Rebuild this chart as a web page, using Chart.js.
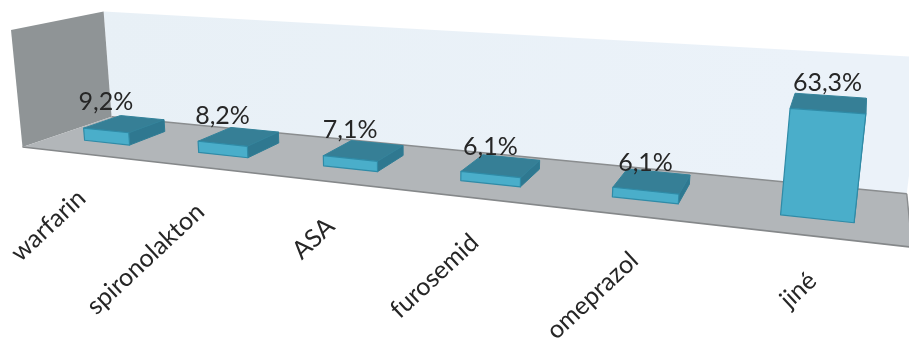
<!DOCTYPE html>
<html lang="cs">
<head>
<meta charset="utf-8">
<title>Léčiva</title>
<style>
  html, body { margin: 0; padding: 0; background: #fff; }
  #wrap { width: 909px; height: 338px; }
</style>
<script src="https://cdn.jsdelivr.net/npm/chart.js@4/dist/chart.umd.min.js"></script>
</head>
<body>
<div id="wrap"><canvas id="chart" width="909" height="338"></canvas></div>
<script>
// Chart data
const categories = ['warfarin', 'spironolakton', 'ASA', 'furosemid', 'omeprazol', 'jiné'];
const shares = [9.2, 8.2, 7.1, 6.1, 6.1, 63.3];
const axisMaximum = 85;

// Camera: three vanishing points and the image of the front-left floor corner
const ORIGIN = { x: 22.5, y: 147 };
const VP_X = { x: -2445, y: -131, k: -0.265 };
const VP_Y = { x: 423, y: 4225, k: -0.0279 };
const VP_Z = { x: 873, y: -142, k: 0.117 };

// Depth span of a bar on the floor (0 front edge, 1 back wall)
const BAR_FRONT = 0.313;
const BAR_BACK = 0.74;

const FONT_FAMILY = 'Lato, "Open Sans", sans-serif';

// Unit cube (X along categories, Y up the value axis, Z into the room) to screen
function toScreen(X, Y, Z) {
  const w = 1 + VP_X.k * X + VP_Y.k * Y + VP_Z.k * Z;
  return {
    x: (ORIGIN.x + VP_X.k * VP_X.x * X + VP_Y.k * VP_Y.x * Y + VP_Z.k * VP_Z.x * Z) / w,
    y: (ORIGIN.y + VP_X.k * VP_X.y * X + VP_Y.k * VP_Y.y * Y + VP_Z.k * VP_Z.y * Z) / w
  };
}

// Chart pixels to the screen, through the plot area
function project(area, px, py, Z) {
  return toScreen((px - area.left) / area.width, (area.bottom - py) / area.height, Z);
}

function polygon(ctx, points, fill, stroke, lineWidth) {
  ctx.beginPath();
  points.forEach((p, i) => (i ? ctx.lineTo(p.x, p.y) : ctx.moveTo(p.x, p.y)));
  ctx.closePath();
  ctx.fillStyle = fill;
  ctx.fill();
  if (stroke) {
    ctx.strokeStyle = stroke;
    ctx.lineWidth = lineWidth || 1;
    ctx.lineJoin = 'round';
    ctx.stroke();
  }
}

// A bar element that draws itself as a box standing on the floor
class BoxElement extends Chart.BarElement {
  static id = 'box3d';
  static defaults = Chart.BarElement.defaults;
  draw(ctx) {
    const { x, y, base, width } = this.getProps(['x', 'y', 'base', 'width']);
    const area = this.$area;
    const l = x - width / 2, r = x + width / 2;
    const p = (px, py, z) => project(area, px, py, z);
    const side = [p(r, base, BAR_FRONT), p(r, base, BAR_BACK), p(r, y, BAR_BACK), p(r, y, BAR_FRONT)];
    const top = [p(l, y, BAR_FRONT), p(l, y, BAR_BACK), p(r, y, BAR_BACK), p(r, y, BAR_FRONT)];
    const front = [p(l, base, BAR_FRONT), p(r, base, BAR_FRONT), p(r, y, BAR_FRONT), p(l, y, BAR_FRONT)];
    polygon(ctx, side, '#2f7890', '#2f7d95');
    polygon(ctx, top, '#367f96', '#34839b');
    polygon(ctx, front, '#4aaeca', '#2f8ba7', 1.2);
  }
}

class BoxController extends Chart.BarController {
  static id = 'box3d';
  static defaults = { ...Chart.BarController.defaults, dataElementType: 'box3d' };
  static overrides = Chart.BarController.overrides;
  updateElements(bars, start, count, mode) {
    super.updateElements(bars, start, count, mode);
    bars.forEach(b => { b.$area = this.chart.chartArea; });
  }
}

// Category axis whose labels follow the front edge of the floor
class FloorCategoryScale extends Chart.CategoryScale {
  static id = 'floorCategory';
  static defaults = Chart.CategoryScale.defaults;
  _computeLabelItems(chartArea) {
    const items = super._computeLabelItems(chartArea);
    const area = this.chart.chartArea;
    items.forEach(item => {
      const t = item.options.translation;
      const edge = project(area, t[0], area.bottom, 0);
      item.options.translation = [edge.x + 1, edge.y + 31];
    });
    return items;
  }
  // The labels leave the axis box, so they are not clipped to it
  _computeLabelArea() {
    return undefined;
  }
}

Chart.register(BoxElement, BoxController, FloorCategoryScale);

// Room behind the bars: left wall, back wall and floor
const roomPlugin = {
  id: 'room',
  beforeDatasetsDraw(chart) {
    const ctx = chart.ctx;
    const c = (X, Y, Z) => toScreen(X, Y, Z);

    const wallGradient = ctx.createLinearGradient(100, 10, 780, 200);
    wallGradient.addColorStop(0, '#e8f0f6');
    wallGradient.addColorStop(1, '#ebf2f9');
    polygon(ctx, [c(0, 0, 1), c(1, 0, 1), c(1, 1, 1), c(0, 1, 1)], wallGradient);

    polygon(ctx, [c(0, 0, 0), c(0, 0, 1), c(0, 1, 1), c(0, 1, 0)], '#8f9496');
    polygon(ctx, [c(0, 0, 0), c(1, 0, 0), c(1, 0, 1), c(0, 0, 1)], '#b2b6b9');

    const edge = (a, b, color, lw) => {
      ctx.beginPath();
      ctx.moveTo(a.x, a.y);
      ctx.lineTo(b.x, b.y);
      ctx.strokeStyle = color;
      ctx.lineWidth = lw;
      ctx.stroke();
    };
    edge(c(0, 0, 0), c(1, 0, 0), '#85888a', 1.6);
    edge(c(0, 0, 1), c(1, 0, 1), '#8a8d8f', 1.4);
    edge(c(1, 0, 0), c(1, 0, 1), '#8a8d8f', 1.4);
  }
};

// Percentage above the front top edge of each box
const valueLabelPlugin = {
  id: 'valueLabels',
  afterDatasetsDraw(chart) {
    const ctx = chart.ctx;
    const area = chart.chartArea;
    ctx.save();
    ctx.font = '25px ' + FONT_FAMILY;
    ctx.fillStyle = '#262626';
    ctx.textAlign = 'center';
    ctx.textBaseline = 'alphabetic';
    chart.getDatasetMeta(0).data.forEach((bar, i) => {
      const { x, y } = bar.getProps(['x', 'y']);
      const p = project(area, x, y, BAR_FRONT);
      ctx.fillText(shares[i].toFixed(1).replace('.', ',') + '%', p.x, p.y - 20);
    });
    ctx.restore();
  }
};

new Chart(document.getElementById('chart'), {
  type: 'box3d',
  data: {
    labels: categories,
    datasets: [{ data: shares, barPercentage: 0.405, categoryPercentage: 1, clip: false }]
  },
  options: {
    responsive: false,
    animation: false,
    plugins: { legend: { display: false }, tooltip: { enabled: false } },
    scales: {
      x: {
        type: 'floorCategory',
        offset: true,
        grid: { display: false },
        border: { display: false },
        ticks: {
          autoSkip: false,
          minRotation: 43,
          maxRotation: 43,
          color: '#262626',
          font: { family: FONT_FAMILY, size: 25 }
        }
      },
      y: { type: 'linear', min: 0, max: axisMaximum, display: false }
    }
  },
  plugins: [roomPlugin, valueLabelPlugin]
});
</script>
</body>
</html>
